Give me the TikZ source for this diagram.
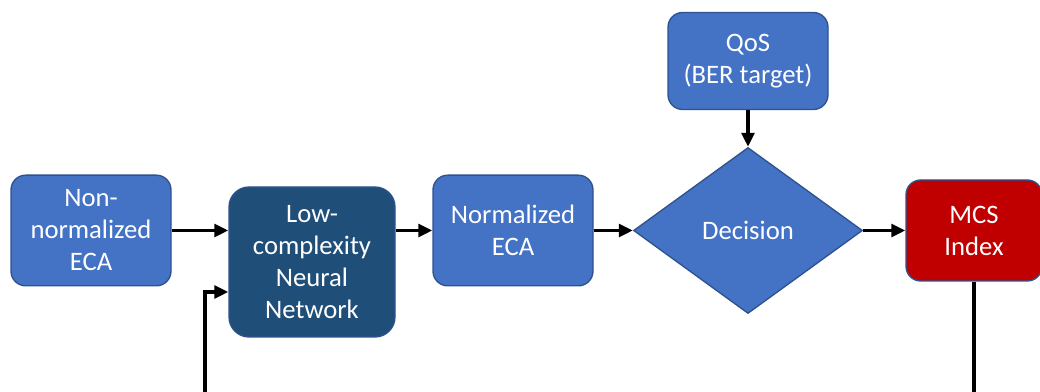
\documentclass[tikz,border=0pt]{standalone}
\usepackage{fontspec}
\setmainfont{Carlito}
\usepackage{tikz}
\usetikzlibrary{arrows.meta}
\usetikzlibrary{shapes.geometric}

\definecolor{boxblue}{HTML}{4472C4}
\definecolor{boxedge}{HTML}{2F528F}
\definecolor{nnblue}{HTML}{1F4E79}
\definecolor{mcsred}{HTML}{C00000}

\begin{document}
\begin{tikzpicture}[x=0.75pt,y=0.75pt,
  blk/.style={draw=boxedge,line width=1pt,fill=boxblue,text=white,rounded corners=11pt,
    align=center,inner sep=0pt,font=\fontsize{20}{24}\selectfont},
  flow/.style={line width=2.8pt,-{Triangle[length=10.5pt,width=9.5pt]}},
  wire/.style={line width=2.8pt}]
  \useasboundingbox (0,0) rectangle (1040,392);

  \node[blk,minimum width=120pt,minimum height=83pt] (raw) at (91,161.5) {Non-\\normalized\\ECA};
  \node[blk,fill=nnblue,rounded corners=15pt,minimum width=124.5pt,minimum height=112.5pt] (nn) at (312,130) {Low-\\complexity\\Neural\\Network};
  \node[blk,minimum width=120pt,minimum height=83pt] (norm) at (513,161.5) {Normalized\\ECA};
  \node[blk,minimum width=120pt,minimum height=72.75pt] (qos) at (748,331) {QoS\\(BER target)};
  \node[blk,diamond,rounded corners=0pt,minimum width=171.75pt,minimum height=124.5pt] (dec) at (748,161.5) {Decision};
  \node[blk,fill=mcsred,minimum width=102pt,minimum height=75.75pt] (mcs) at (974,161.5) {MCS\\Index};

  \coordinate (fb) at (205,0);
  \coordinate (out) at (974,0);

  \draw[flow] (raw.east) -- (raw.east -| nn.west);
  \draw[flow] (nn.east |- norm.west) -- (norm.west);
  \draw[flow] (norm.east) -- (dec.west);
  \draw[flow] (qos.south) -- (dec.north);
  \draw[flow] (dec.east) -- (mcs.west);
  \draw[flow] (fb) |- ([yshift=-22.5pt]nn.west);
  \draw[wire] (mcs.south) -- (out);
\end{tikzpicture}
\end{document}
